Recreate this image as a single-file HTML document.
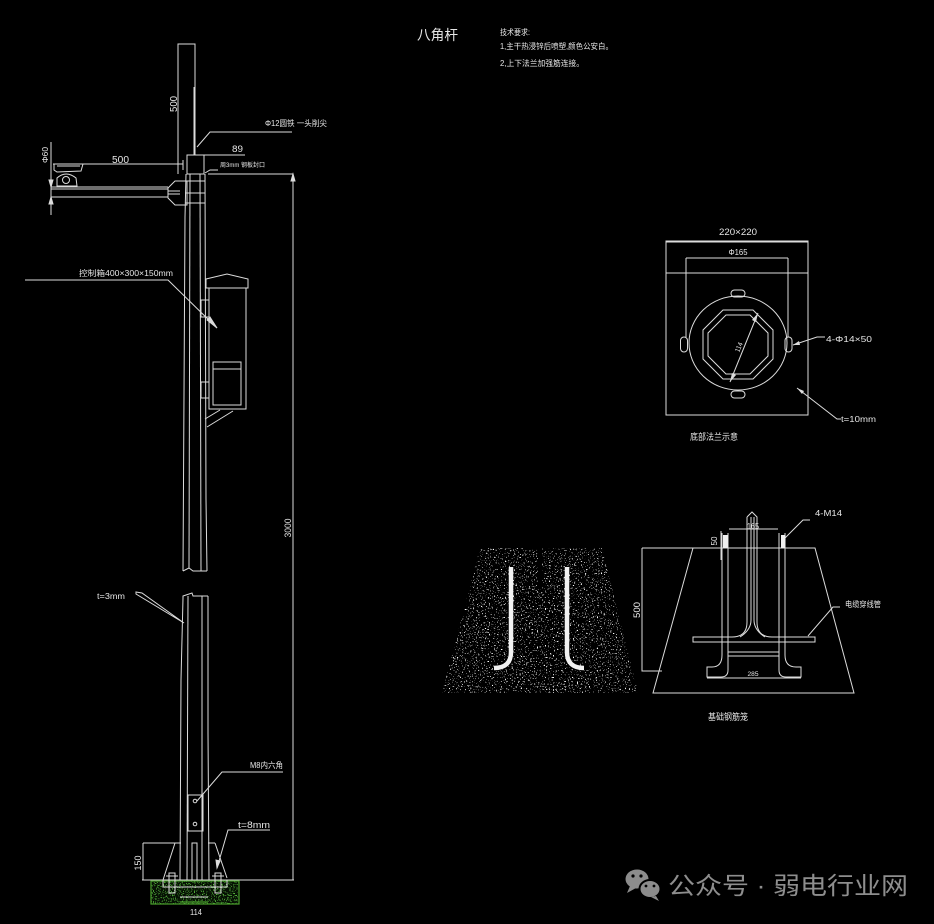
<!DOCTYPE html>
<html><head><meta charset="utf-8"><style>
html,body{margin:0;padding:0;background:#000;}
svg{display:block;}
text{font-family:"Liberation Sans","Noto Sans CJK SC",sans-serif;fill:#e6e6e6;}
</style></head><body>
<svg width="934" height="924" viewBox="0 0 934 924" xmlns="http://www.w3.org/2000/svg">
<defs>
<filter id="spk" x="0%" y="0%" width="100%" height="100%" color-interpolation-filters="sRGB">
 <feTurbulence type="fractalNoise" baseFrequency="0.75" numOctaves="1" seed="7" result="n"/>
 <feColorMatrix in="n" type="matrix" values="0 0 0 0 1  0 0 0 0 1  0 0 0 0 1  14 0 0 0 -8.7" result="d"/>
 <feComposite in="d" in2="SourceAlpha" operator="in"/>
</filter>
<filter id="spkg" x="0%" y="0%" width="100%" height="100%" color-interpolation-filters="sRGB">
 <feTurbulence type="fractalNoise" baseFrequency="0.9" numOctaves="1" seed="3" result="n"/>
 <feColorMatrix in="n" type="matrix" values="0 0 0 0 0.35  0 0 0 0 0.75  0 0 0 0 0.25  10 0 0 0 -5.6" result="d"/>
 <feComposite in="d" in2="SourceAlpha" operator="in"/>
</filter>
</defs>
<rect width="934" height="924" fill="#000"/>

<g stroke="#dcdcdc" stroke-width="1" fill="none">
<!-- ===== lightning rod ===== -->
<path d="M178,174 L178,44 L195,44 L195,155"/>
<path d="M194,87 L194,155"/>
<rect x="187" y="155" width="17" height="19"/>
<path d="M197,147 L210,132 L292,132"/>
<path d="M204,155 L245,155"/>
<path d="M205,173 L210,170 L218,170"/>

<!-- ===== arm ===== -->
<path d="M53,164 L183,164"/>
<path d="M183,160 L183,170"/>
<path d="M51,187 L168,187 M51,189 L168,189 M51,197 L168,197"/>
<polygon points="168,188 175,181 187,181 187,205 175,205 168,198"/>
<path d="M168,191 L180,191 M168,194 L180,194"/>
<polygon points="54,164 83,164 81,171 57,172 54,170"/>
<path d="M57,166 L80,166"/>
<path d="M57,186 L57,178 Q66,170 76,178 L77,186 Z"/>
<circle cx="66" cy="180" r="3.5"/>
<path d="M51,142 L51,215"/>
<path d="M51,187 L49,180 L53,180 Z M51,197 L49,204 L53,204 Z" fill="#dcdcdc"/>

<!-- ===== upper pole ===== -->
<path d="M186,174 L185,217 L183,571"/>
<path d="M190,174 L189,568"/>
<path d="M200,174 L201,571"/>
<path d="M205,174 L206,499 L207,571"/>
<path d="M183,571 L189,568 L193,571 L207,571"/>
<path d="M185,181 L205,181 M185,193 L205,193 M185,203 L205,203"/>

<path d="M208,174 L293,174 L293,880"/>
<path d="M293,174 L291,181 L295,181 Z" fill="#dcdcdc"/>

<!-- ===== control box ===== -->
<polygon points="206,279 227,274 248,279 248,288 206,288"/>
<path d="M209,288 L209,409 L246,409 L246,288"/>
<rect x="213" y="362" width="28" height="43"/>
<path d="M213,369 L241,369"/>
<rect x="201" y="300" width="8" height="17"/>
<rect x="201" y="382" width="8" height="16"/>
<path d="M220,410 L205,419 M233,411 L207,427"/>
<path d="M25,280 L168,280 L217,328"/>
<path d="M217,328 L210,317 L207,320 Z" fill="#dcdcdc"/>

<!-- ===== lower pole ===== -->
<path d="M183,598 L181,680 L180,880"/>
<path d="M188,596 L187,880"/>
<path d="M202,596 L202,880"/>
<path d="M208,596 L208,733 L209,880"/>
<path d="M183,598 L183,596 L192,593 L193,596 L208,596"/>
<polygon points="136,592 142,593 184,623 136,594"/>

<rect x="188" y="795" width="15" height="36"/>
<circle cx="195" cy="801" r="1.8"/>
<circle cx="195" cy="824" r="1.8"/>
<rect x="192" y="843" width="5" height="37"/>
<path d="M283,772 L222,772 L197,801"/>
<path d="M270,830 L228,830 L217,868"/>
<path d="M217,868 L216,860 L220,861 Z" fill="#dcdcdc"/>
<path d="M175,843 L163,880 M175,843 L181,843"/>
<path d="M215,843 L227,878 M208,843 L215,843"/>
<path d="M143,843 L175,843 M143,843 L143,880"/>
<path d="M142,880 L294,880"/>
</g>

<rect x="151" y="881" width="88" height="23" fill="#061004"/>
<rect x="151" y="881" width="88" height="23" fill="#000" filter="url(#spkg)"/>
<rect x="151" y="881" width="88" height="23" fill="none" stroke="#4aa02c" stroke-width="1.2"/>
<g stroke="#dcdcdc" stroke-width="1" fill="none">
<rect x="163" y="880" width="64" height="7"/>
<rect x="169" y="873" width="6" height="20"/>
<rect x="215" y="873" width="6" height="20"/>
<path d="M166,876 L178,876 M212,876 L224,876"/>
<path d="M180,897 L208,897"/>
</g>
<path d="M180,902 L208,902" stroke="#4aa02c" stroke-width="1.2"/>

<!-- ===== flange plan ===== -->
<g stroke="#dcdcdc" stroke-width="1" fill="none">
<rect x="666" y="241" width="142" height="174"/>
<path d="M666,273 L808,273"/>
<path d="M666,242 L808,242"/>
<path d="M686,258 L788,258 M686,258 L686,337 M788,258 L788,337"/>
<ellipse cx="738" cy="343" rx="49" ry="47"/>
<rect x="731" y="290" width="14" height="7" rx="3.5"/>
<rect x="731" y="391" width="14" height="7" rx="3.5"/>
<rect x="680.5" y="337" width="7" height="15" rx="3.5"/>
<rect x="785" y="337" width="7" height="15" rx="3.5"/>
<polygon points="723,310 753,310 773,330 773,359 753,379 723,379 703,359 703,330"/>
<polygon points="726,315 750,315 768,333 768,356 750,374 726,374 708,356 708,333"/>
<path d="M730,382 L758,313"/>
<path d="M793,345 L817,337 L825,337"/>
<path d="M797,388 L837,419 L841,419"/>
</g>
<path d="M758,313 L752,320 L756,322 Z M730,382 L736,375 L732,373 Z M793,345 L799,341 L800,345 Z M797,388 L804,391 L802,394 Z" fill="#dcdcdc"/>

<!-- ===== speckled concrete ===== -->
<polygon points="480,548 602,548 638,693 442,693" fill="#000" filter="url(#spk)"/>
<rect x="538" y="548" width="4" height="40" fill="#000"/>
<path d="M511,567 L511,652 Q511,668 494,668" stroke="#f2f2f2" stroke-width="4.5" fill="none"/>
<path d="M567,567 L567,652 Q567,668 584,668" stroke="#f2f2f2" stroke-width="4.5" fill="none"/>

<!-- ===== foundation cage ===== -->
<g stroke="#dcdcdc" stroke-width="1" fill="none">
<path d="M642,548 L815,548 L854,693 L653,693 L693,548"/>
<path d="M642,548 L642,671 L662,671"/>
<path d="M728,533 L728,670 Q728,677 721,677 L707,677 L707,667 L712,667 Q722,667 722,655 L722,533"/>
<path d="M779,533 L779,670 Q779,677 786,677 L801,677 L801,667 L796,667 Q785,667 785,655 L785,533"/>
<rect x="728" y="652" width="51" height="4"/>
<path d="M747,517 L747,622 Q747,637 732,637 L693,637 L693,642 L815,642 L815,637 L772,637 Q757,637 757,622 L757,517 L752,512 L747,517"/>
<path d="M751,517 L751,620 Q751,630 740,637 M754,517 L754,620 Q754,630 765,637"/>
<path d="M729,529 L778,529"/>
<path d="M721,531 L721,560"/>
<path d="M707,678 L801,678"/>
<path d="M785,538 L803,520 L810,520"/>
<path d="M808,636 L833,607 L840,607"/>
</g>
<rect x="723" y="535" width="5" height="13" fill="#f0f0f0"/>
<rect x="781" y="535" width="4.5" height="13" fill="#f0f0f0"/>

<!-- ===== texts ===== -->
<text x="417" y="40" font-size="14" textLength="41" lengthAdjust="spacingAndGlyphs">八角杆</text>
<text x="500" y="35" font-size="8" textLength="30" lengthAdjust="spacingAndGlyphs">技术要求:</text>
<text x="500" y="49" font-size="8" textLength="113" lengthAdjust="spacingAndGlyphs">1,主干热浸锌后喷塑,颜色公安白。</text>
<text x="500" y="66" font-size="8" textLength="84" lengthAdjust="spacingAndGlyphs">2,上下法兰加强筋连接。</text>

<text transform="translate(177,104) rotate(-90)" font-size="10" text-anchor="middle" textLength="16" lengthAdjust="spacingAndGlyphs">500</text>
<text x="265" y="126" font-size="8" textLength="62" lengthAdjust="spacingAndGlyphs">Φ12圆铁 一头削尖</text>
<text x="232" y="152" font-size="9" textLength="11" lengthAdjust="spacingAndGlyphs">89</text>
<text x="220" y="167" font-size="6" textLength="45" lengthAdjust="spacingAndGlyphs">周3mm  钢板封口</text>
<text x="112" y="163" font-size="10" textLength="17" lengthAdjust="spacingAndGlyphs">500</text>
<text transform="translate(48,155) rotate(-90)" font-size="8" text-anchor="middle" textLength="16" lengthAdjust="spacingAndGlyphs">Φ60</text>
<text x="79" y="276" font-size="8" textLength="94" lengthAdjust="spacingAndGlyphs">控制箱400×300×150mm</text>
<text transform="translate(291,528) rotate(-90)" font-size="9" text-anchor="middle" textLength="19" lengthAdjust="spacingAndGlyphs">3000</text>
<text x="97" y="599" font-size="8" textLength="28" lengthAdjust="spacingAndGlyphs">t=3mm</text>
<text x="250" y="768" font-size="8" textLength="33" lengthAdjust="spacingAndGlyphs">M8内六角</text>
<text x="238" y="828" font-size="9" textLength="32" lengthAdjust="spacingAndGlyphs">t=8mm</text>
<text transform="translate(141,863) rotate(-90)" font-size="9" text-anchor="middle" textLength="15" lengthAdjust="spacingAndGlyphs">150</text>
<text x="196" y="915" font-size="8" text-anchor="middle" textLength="12" lengthAdjust="spacingAndGlyphs">114</text>

<text x="738" y="235" font-size="9" text-anchor="middle" textLength="38" lengthAdjust="spacingAndGlyphs">220×220</text>
<text x="738" y="255" font-size="8" text-anchor="middle" textLength="19" lengthAdjust="spacingAndGlyphs">Φ165</text>
<text transform="translate(741,348) rotate(-68)" font-size="7" text-anchor="middle" textLength="10" lengthAdjust="spacingAndGlyphs">114</text>
<text x="826" y="342" font-size="8" textLength="46" lengthAdjust="spacingAndGlyphs">4-Φ14×50</text>
<text x="841" y="422" font-size="8" textLength="35" lengthAdjust="spacingAndGlyphs">t=10mm</text>
<text x="690" y="440" font-size="9" textLength="48" lengthAdjust="spacingAndGlyphs">底部法兰示意</text>

<text x="753" y="529" font-size="8" text-anchor="middle" textLength="12" lengthAdjust="spacingAndGlyphs">165</text>
<text transform="translate(717,541) rotate(-90)" font-size="8" text-anchor="middle" textLength="9" lengthAdjust="spacingAndGlyphs">50</text>
<text x="753" y="676" font-size="6" text-anchor="middle" textLength="11" lengthAdjust="spacingAndGlyphs">285</text>
<text transform="translate(640,610) rotate(-90)" font-size="9" text-anchor="middle" textLength="16" lengthAdjust="spacingAndGlyphs">500</text>
<text x="815" y="516" font-size="8" textLength="27" lengthAdjust="spacingAndGlyphs">4-M14</text>
<text x="845" y="607" font-size="8" textLength="36" lengthAdjust="spacingAndGlyphs">电缆穿线管</text>
<text x="708" y="720" font-size="9" textLength="40" lengthAdjust="spacingAndGlyphs">基础钢筋笼</text>

<!-- watermark -->
<g fill="#8c8c8c">
<ellipse cx="637" cy="879" rx="11.5" ry="9.5"/>
<path d="M630,886 L627,893 L636,888 Z"/>
<ellipse cx="650" cy="889" rx="10.5" ry="9" stroke="#000" stroke-width="2"/>
<path d="M656,896 L659,901 L651,897 Z"/>
</g>
<g fill="#000">
<circle cx="633" cy="876" r="1.6"/><circle cx="641" cy="876" r="1.6"/>
<circle cx="646" cy="886" r="1.4"/><circle cx="654" cy="886" r="1.4"/>
</g>
<text x="668" y="894" font-size="24" textLength="240" lengthAdjust="spacingAndGlyphs" style="fill:#8e8e8e">公众号 · 弱电行业网</text>
</svg>
</body></html>
